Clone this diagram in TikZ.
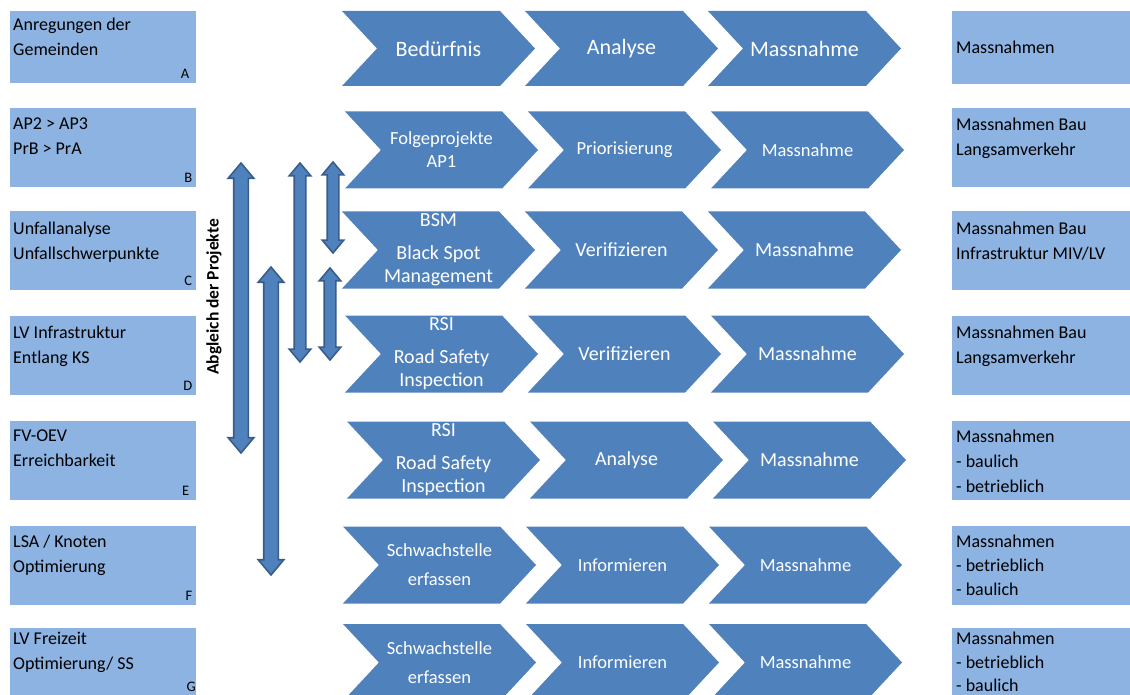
\documentclass[tikz,border=0pt]{standalone}
\usepackage{fontspec}
\setmainfont{Carlito}
\usepackage{xcolor}
\usepackage{tikz}
\usetikzlibrary{shapes.symbols,shapes.arrows}
\definecolor{boxblue}{HTML}{8DB3E2}
\definecolor{chevblue}{HTML}{4F81BD}
\definecolor{arrowline}{HTML}{385D8A}
\tikzstyle{tsBox} = [
    rectangle,
    fill=boxblue,
    minimum width=186pt,
    minimum height=79pt,
    inner sep=0pt,
    anchor=north west
]
\tikzstyle{tsBoxText} = [
    text=black,
    font=\fontsize{18}{25}\selectfont,
    align=left,
    anchor=north west,
    inner sep=0pt
]
\tikzstyle{tsTag} = [
    text=black,
    font=\fontsize{14.5}{14.5}\selectfont,
    anchor=south east,
    inner sep=0pt
]
\tikzstyle{tsChevron} = [
    signal,
    signal from=west,
    signal to=east,
    signal pointer angle=94,
    fill=chevblue,
    text=white,
    align=center,
    minimum width=193pt,
    minimum height=77pt,
    inner sep=0pt,
    font=\fontsize{20}{23}\selectfont
]
\tikzstyle{tsChevronBig} = [
    tsChevron,
    minimum height=75pt,
    font=\fontsize{22}{25}\selectfont
]
\tikzstyle{tsChevronSmall} = [
    tsChevron,
    font=\fontsize{18.5}{23}\selectfont
]
\tikzstyle{tsArrow} = [
    double arrow,
    rotate=90,
    fill=chevblue,
    draw=arrowline,
    line width=1.6pt,
    inner sep=6.5pt,
    double arrow head extend=5.5pt,
    double arrow tip angle=80
]
\tikzstyle{tsArrowThin} = [
    tsArrow,
    inner sep=5pt,
    double arrow head extend=5pt
]

\begin{document}
\begin{tikzpicture}[x=1pt, y=-1pt]

    \clip (0,0) rectangle (1130,695);

    % left column
    \node[tsBox, minimum height=72pt] (boxA) at (10,11) {};
    \node[tsBox] (boxB) at (10,108) {};
    \node[tsBox] (boxC) at (10,211) {};
    \node[tsBox] (boxD) at (10,316) {};
    \node[tsBox] (boxE) at (10,421) {};
    \node[tsBox] (boxF) at (10,526) {};
    \node[tsBox] (boxG) at (10,628) {};

    \node[tsBoxText] (txtA) at (13,18) {Anregungen der\\Gemeinden};
    \node[tsBoxText] (txtB) at (13,118) {AP2 > AP3\\PrB > PrA};
    \node[tsBoxText] (txtC) at (13,222) {Unfallanalyse\\Unfallschwerpunkte};
    \node[tsBoxText] (txtD) at (13,326) {LV Infrastruktur\\Entlang KS};
    \node[tsBoxText] (txtE) at (13,430) {FV-OEV\\Erreichbarkeit};
    \node[tsBoxText] (txtF) at (13,535) {LSA / Knoten\\Optimierung};
    \node[tsBoxText] (txtG) at (13,632) {LV Freizeit\\Optimierung/ SS};

    \node[tsTag] (tagA) at ([xshift=-7pt,yshift=5pt]boxA.south east) {A};
    \node[tsTag] (tagB) at ([xshift=-4pt,yshift=5pt]boxB.south east) {B};
    \node[tsTag] (tagC) at ([xshift=-4pt,yshift=5pt]boxC.south east) {C};
    \node[tsTag] (tagD) at ([xshift=-4pt,yshift=5pt]boxD.south east) {D};
    \node[tsTag] (tagE) at ([xshift=-7pt,yshift=5pt]boxE.south east) {E};
    \node[tsTag] (tagF) at ([xshift=-4pt,yshift=5pt]boxF.south east) {F};
    \node[tsTag] (tagG) at (196,692) {G};

    % right column
    \node[tsBox, minimum width=190pt, minimum height=73pt] (resA) at (952,11) {};
    \node[tsBox, minimum width=190pt] (resB) at (952,108) {};
    \node[tsBox, minimum width=190pt] (resC) at (952,211) {};
    \node[tsBox, minimum width=190pt] (resD) at (952,316) {};
    \node[tsBox, minimum width=190pt] (resE) at (952,421) {};
    \node[tsBox, minimum width=190pt] (resF) at (952,526) {};
    \node[tsBox, minimum width=190pt] (resG) at (952,628) {};

    \node[tsBoxText] (rtxtA) at (956,41) {Massnahmen};
    \node[tsBoxText] (rtxtB) at (956,118) {Massnahmen Bau\\Langsamverkehr};
    \node[tsBoxText] (rtxtC) at (956,222) {Massnahmen Bau\\Infrastruktur MIV/LV};
    \node[tsBoxText] (rtxtD) at (956,326) {Massnahmen Bau\\Langsamverkehr};
    \node[tsBoxText] (rtxtE) at (956,430) {Massnahmen\\- baulich\\- betrieblich};
    \node[tsBoxText, font=\fontsize{18}{24}\selectfont] (rtxtF) at (956,535) {Massnahmen\\- betrieblich\\- baulich};
    \node[tsBoxText, font=\fontsize{18}{23.5}\selectfont] (rtxtG) at (956,632) {Massnahmen\\- betrieblich\\- baulich};

    % process chevrons
    \node[tsChevronBig] (bed) at (438.5,48.5) {Bedürfnis};
    \node[tsChevronBig] (ana) at (621.5,48.5) {Analyse};
    \node[tsChevronBig] (mas) at (804.5,48.5) {Massnahme};

    \node[tsChevronSmall] (folB) at (441.5,150) {Folgeprojekte\\AP1};
    \node[tsChevronSmall] (priB) at (624.5,150) {Priorisierung};
    \node[tsChevronSmall] (masB) at (807.5,150) {Massnahme};

    \node[tsChevron] (bsmC) at (438.5,250) {BSM\\[10pt]Black Spot\\Management};
    \node[tsChevron] (verC) at (621.5,250) {Verifizieren};
    \node[tsChevron] (masC) at (804.5,250) {Massnahme};

    \node[tsChevron] (rsiD) at (441.5,354) {RSI\\[10pt]Road Safety\\Inspection};
    \node[tsChevron] (verD) at (624.5,354) {Verifizieren};
    \node[tsChevron] (masD) at (807.5,354) {Massnahme};

    \node[tsChevron] (rsiE) at (443.5,460) {RSI\\[10pt]Road Safety\\Inspection};
    \node[tsChevron] (anaE) at (626.5,460) {Analyse};
    \node[tsChevron] (masE) at (809.5,460) {Massnahme};

    \node[tsChevronSmall] (schF) at (439.5,565) {Schwachstelle\\[6pt]erfassen};
    \node[tsChevronSmall] (infF) at (622.5,565) {Informieren};
    \node[tsChevronSmall] (masF) at (805.5,565) {Massnahme};

    \node[tsChevronSmall] (schG) at (439.5,662.5) {Schwachstelle\\[6pt]erfassen};
    \node[tsChevronSmall] (infG) at (622.5,662.5) {Informieren};
    \node[tsChevronSmall] (masG) at (805.5,662.5) {Massnahme};

    % abgleich
    \node[rotate=90, font=\bfseries\fontsize{17.5}{17.5}\selectfont] (abgleich) at (214,297) {Abgleich der Projekte};

    \node[tsArrow, minimum height=290pt] (pfeil1) at (241,308) {};
    \node[tsArrow, minimum height=308pt] (pfeil2) at (271,421) {};
    \node[tsArrowThin, minimum height=199pt] (pfeil3) at (300,262.5) {};
    \node[tsArrowThin, minimum height=91pt] (pfeil4) at (333,207.5) {};
    \node[tsArrowThin, minimum height=92pt] (pfeil5) at (330,314) {};

\end{tikzpicture}
\end{document}
